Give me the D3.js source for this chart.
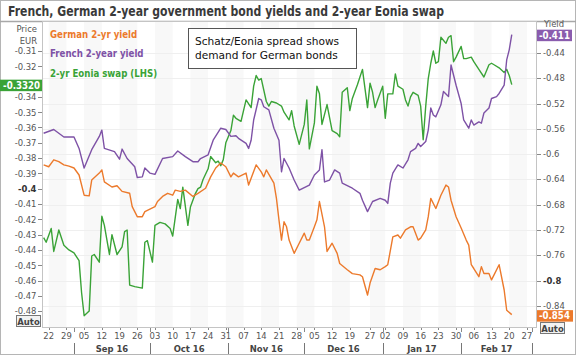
<!DOCTYPE html>
<html><head><meta charset="utf-8">
<script src="https://cdn.jsdelivr.net/npm/d3@7"></script>
<style>body{margin:0;background:#fff}svg{display:block}</style>
</head><body><svg id="c" width="576" height="355"></svg>
<script>
const germanYield = [["2016-08-20",-0.617],["2016-08-22",-0.620],["2016-08-24",-0.609],["2016-08-26",-0.612],["2016-08-28",-0.617],["2016-08-30",-0.619],["2016-09-01",-0.622],["2016-09-03",-0.633],["2016-09-05",-0.665],["2016-09-07",-0.666],["2016-09-08",-0.641],["2016-09-11",-0.630],["2016-09-12",-0.625],["2016-09-13",-0.644],["2016-09-16",-0.652],["2016-09-18",-0.650],["2016-09-20",-0.659],["2016-09-23",-0.662],["2016-09-24",-0.683],["2016-09-26",-0.699],["2016-09-28",-0.699],["2016-09-29",-0.691],["2016-10-03",-0.683],["2016-10-04",-0.675],["2016-10-06",-0.667],["2016-10-08",-0.662],["2016-10-10",-0.665],["2016-10-11",-0.657],["2016-10-13",-0.659],["2016-10-15",-0.657],["2016-10-18",-0.667],["2016-10-20",-0.662],["2016-10-23",-0.654],["2016-10-25",-0.636],["2016-10-27",-0.622],["2016-10-29",-0.614],["2016-10-31",-0.620],["2016-11-02",-0.636],["2016-11-03",-0.630],["2016-11-05",-0.636],["2016-11-08",-0.630],["2016-11-09",-0.649],["2016-11-12",-0.617],["2016-11-14",-0.628],["2016-11-15",-0.636],["2016-11-16",-0.625],["2016-11-19",-0.646],["2016-11-20",-0.670],["2016-11-21",-0.704],["2016-11-22",-0.736],["2016-11-23",-0.707],["2016-11-24",-0.715],["2016-11-25",-0.736],["2016-11-27",-0.757],["2016-11-29",-0.741],["2016-12-01",-0.725],["2016-12-02",-0.736],["2016-12-03",-0.736],["2016-12-05",-0.715],["2016-12-06",-0.704],["2016-12-07",-0.675],["2016-12-09",-0.715],["2016-12-10",-0.754],["2016-12-12",-0.741],["2016-12-14",-0.757],["2016-12-15",-0.773],["2016-12-18",-0.783],["2016-12-20",-0.789],["2016-12-23",-0.791],["2016-12-24",-0.794],["2016-12-26",-0.823],["2016-12-27",-0.804],["2016-12-29",-0.781],["2016-12-31",-0.783],["2017-01-02",-0.778],["2017-01-03",-0.775],["2017-01-05",-0.731],["2017-01-07",-0.728],["2017-01-08",-0.733],["2017-01-10",-0.720],["2017-01-12",-0.715],["2017-01-13",-0.715],["2017-01-15",-0.736],["2017-01-16",-0.733],["2017-01-18",-0.720],["2017-01-19",-0.699],["2017-01-20",-0.670],["2017-01-22",-0.686],["2017-01-24",-0.665],["2017-01-26",-0.649],["2017-01-27",-0.652],["2017-01-28",-0.673],["2017-01-30",-0.699],["2017-02-01",-0.717],["2017-02-03",-0.736],["2017-02-04",-0.744],["2017-02-05",-0.775],["2017-02-06",-0.781],["2017-02-08",-0.794],["2017-02-09",-0.778],["2017-02-10",-0.789],["2017-02-12",-0.789],["2017-02-13",-0.799],["2017-02-14",-0.791],["2017-02-16",-0.775],["2017-02-18",-0.815],["2017-02-19",-0.847],["2017-02-21",-0.854]];

const frenchYield = [["2016-08-20",-0.567],["2016-08-24",-0.561],["2016-08-28",-0.573],["2016-09-01",-0.573],["2016-09-03",-0.591],["2016-09-05",-0.622],["2016-09-08",-0.593],["2016-09-11",-0.572],["2016-09-12",-0.562],["2016-09-13",-0.591],["2016-09-17",-0.596],["2016-09-19",-0.608],["2016-09-20",-0.592],["2016-09-22",-0.607],["2016-09-25",-0.620],["2016-09-26",-0.637],["2016-09-28",-0.636],["2016-09-29",-0.622],["2016-10-01",-0.630],["2016-10-03",-0.632],["2016-10-06",-0.607],["2016-10-10",-0.604],["2016-10-12",-0.595],["2016-10-15",-0.604],["2016-10-18",-0.612],["2016-10-20",-0.612],["2016-10-21",-0.607],["2016-10-24",-0.601],["2016-10-26",-0.578],["2016-10-29",-0.559],["2016-10-31",-0.561],["2016-11-02",-0.572],["2016-11-04",-0.571],["2016-11-05",-0.575],["2016-11-08",-0.583],["2016-11-09",-0.591],["2016-11-10",-0.578],["2016-11-11",-0.546],["2016-11-13",-0.512],["2016-11-14",-0.514],["2016-11-15",-0.525],["2016-11-17",-0.530],["2016-11-19",-0.559],["2016-11-21",-0.578],["2016-11-22",-0.628],["2016-11-23",-0.607],["2016-11-25",-0.622],["2016-11-27",-0.641],["2016-11-29",-0.657],["2016-12-03",-0.649],["2016-12-05",-0.633],["2016-12-07",-0.625],["2016-12-08",-0.593],["2016-12-09",-0.644],["2016-12-11",-0.641],["2016-12-13",-0.625],["2016-12-15",-0.630],["2016-12-16",-0.646],["2016-12-20",-0.654],["2016-12-23",-0.662],["2016-12-24",-0.673],["2016-12-26",-0.691],["2016-12-28",-0.675],["2016-12-31",-0.670],["2017-01-02",-0.673],["2017-01-03",-0.678],["2017-01-04",-0.646],["2017-01-05",-0.630],["2017-01-07",-0.617],["2017-01-09",-0.622],["2017-01-11",-0.609],["2017-01-12",-0.596],["2017-01-14",-0.591],["2017-01-15",-0.583],["2017-01-16",-0.588],["2017-01-18",-0.580],["2017-01-19",-0.562],["2017-01-20",-0.527],["2017-01-21",-0.538],["2017-01-22",-0.541],["2017-01-24",-0.522],["2017-01-25",-0.501],["2017-01-27",-0.509],["2017-01-28",-0.459],["2017-01-30",-0.491],["2017-02-01",-0.520],["2017-02-02",-0.546],["2017-02-04",-0.559],["2017-02-05",-0.546],["2017-02-06",-0.554],["2017-02-08",-0.549],["2017-02-09",-0.551],["2017-02-10",-0.535],["2017-02-12",-0.527],["2017-02-13",-0.512],["2017-02-15",-0.509],["2017-02-16",-0.504],["2017-02-18",-0.491],["2017-02-19",-0.451],["2017-02-20",-0.435],["2017-02-21",-0.411]];

const eoniaSwap = [["2016-08-20",-0.432],["2016-08-21",-0.435],["2016-08-23",-0.426],["2016-08-24",-0.441],["2016-08-26",-0.427],["2016-08-28",-0.437],["2016-08-30",-0.440],["2016-09-01",-0.442],["2016-09-03",-0.447],["2016-09-04",-0.468],["2016-09-05",-0.483],["2016-09-07",-0.480],["2016-09-08",-0.444],["2016-09-09",-0.443],["2016-09-11",-0.448],["2016-09-12",-0.418],["2016-09-13",-0.424],["2016-09-15",-0.443],["2016-09-16",-0.430],["2016-09-18",-0.443],["2016-09-20",-0.438],["2016-09-21",-0.428],["2016-09-22",-0.427],["2016-09-23",-0.463],["2016-09-25",-0.464],["2016-09-28",-0.465],["2016-09-29",-0.435],["2016-09-30",-0.434],["2016-10-02",-0.448],["2016-10-03",-0.424],["2016-10-05",-0.422],["2016-10-07",-0.423],["2016-10-09",-0.426],["2016-10-10",-0.431],["2016-10-12",-0.407],["2016-10-13",-0.413],["2016-10-14",-0.399],["2016-10-16",-0.424],["2016-10-17",-0.412],["2016-10-19",-0.403],["2016-10-20",-0.400],["2016-10-21",-0.399],["2016-10-22",-0.394],["2016-10-24",-0.387],["2016-10-25",-0.379],["2016-10-27",-0.383],["2016-10-28",-0.382],["2016-10-29",-0.385],["2016-10-30",-0.381],["2016-10-31",-0.370],["2016-11-02",-0.362],["2016-11-03",-0.352],["2016-11-04",-0.354],["2016-11-06",-0.356],["2016-11-07",-0.349],["2016-11-08",-0.342],["2016-11-10",-0.347],["2016-11-11",-0.333],["2016-11-12",-0.326],["2016-11-13",-0.329],["2016-11-14",-0.328],["2016-11-16",-0.343],["2016-11-17",-0.346],["2016-11-18",-0.343],["2016-11-20",-0.344],["2016-11-22",-0.346],["2016-11-23",-0.350],["2016-11-25",-0.355],["2016-11-26",-0.349],["2016-11-27",-0.359],["2016-11-29",-0.371],["2016-12-01",-0.358],["2016-12-02",-0.342],["2016-12-03",-0.374],["2016-12-05",-0.357],["2016-12-06",-0.333],["2016-12-07",-0.338],["2016-12-08",-0.358],["2016-12-10",-0.345],["2016-12-12",-0.362],["2016-12-14",-0.364],["2016-12-15",-0.366],["2016-12-16",-0.337],["2016-12-18",-0.334],["2016-12-19",-0.349],["2016-12-20",-0.341],["2016-12-22",-0.332],["2016-12-23",-0.327],["2016-12-24",-0.322],["2016-12-26",-0.347],["2016-12-27",-0.331],["2016-12-28",-0.337],["2016-12-29",-0.347],["2016-12-30",-0.342],["2017-01-01",-0.333],["2017-01-02",-0.354],["2017-01-03",-0.338],["2017-01-05",-0.338],["2017-01-06",-0.325],["2017-01-07",-0.333],["2017-01-09",-0.335],["2017-01-10",-0.342],["2017-01-11",-0.346],["2017-01-12",-0.340],["2017-01-13",-0.337],["2017-01-15",-0.339],["2017-01-16",-0.346],["2017-01-17",-0.368],["2017-01-18",-0.346],["2017-01-19",-0.328],["2017-01-20",-0.318],["2017-01-21",-0.310],["2017-01-22",-0.318],["2017-01-23",-0.317],["2017-01-24",-0.301],["2017-01-26",-0.305],["2017-01-27",-0.301],["2017-01-28",-0.300],["2017-01-29",-0.317],["2017-01-30",-0.314],["2017-02-01",-0.307],["2017-02-02",-0.315],["2017-02-03",-0.315],["2017-02-05",-0.314],["2017-02-06",-0.317],["2017-02-08",-0.322],["2017-02-10",-0.327],["2017-02-12",-0.319],["2017-02-13",-0.318],["2017-02-14",-0.319],["2017-02-16",-0.321],["2017-02-18",-0.324],["2017-02-19",-0.322],["2017-02-20",-0.326],["2017-02-21",-0.332]];

const leftTicks = [-0.31,-0.32,-0.33,-0.34,-0.35,-0.36,-0.37,-0.38,-0.39,-0.40,-0.41,-0.42,-0.43,-0.44,-0.45,-0.46,-0.47,-0.48];
const leftHiddenLabels = [-0.33];
const rightTicks = [-0.44,-0.48,-0.52,-0.56,-0.60,-0.64,-0.68,-0.72,-0.76,-0.80,-0.84];
const weekTicks = ["2016-08-22","2016-08-29","2016-09-05","2016-09-12","2016-09-19","2016-09-26","2016-10-03","2016-10-10","2016-10-17","2016-10-24","2016-10-31","2016-11-07","2016-11-14","2016-11-21","2016-11-28","2016-12-05","2016-12-12","2016-12-19","2016-12-27","2017-01-02","2017-01-09","2017-01-16","2017-01-23","2017-01-30","2017-02-06","2017-02-13","2017-02-20","2017-02-27"];
const monthStarts = ["2016-09-01","2016-10-01","2016-11-01","2016-12-01","2017-01-01","2017-02-01","2017-03-01"];
const seriesNames = ["German 2-yr yield","French 2-year yield","2-yr Eonia swap (LHS)"];
const seriesColors = ["#ec7a2c","#7e52a6","#3aa337"];
const titleText = "French, German 2-year government bond yields and 2-year Eonia swap";
const noteLines = ["Schatz/Eonia spread shows","demand for German bonds"];

const parse = d3.timeParse("%Y-%m-%d");
const svg = d3.select("#c");
const FONT = "'DejaVu Sans Condensed','DejaVu Sans',sans-serif";
const P = {l:43, r:536, t:22, b:327};

const x = d3.scaleTime().domain([parse("2016-09-01"), parse("2017-03-01")]).range([74, 532]);
const yL = d3.scaleLinear().domain([-0.48, -0.31]).range([311.1, 51.0]);
const yR = d3.scaleLinear().domain([-0.84, -0.44]).range([305.8, 53]);

// outer frame
svg.append("rect").attr("x",0.5).attr("y",0.5).attr("width",575).attr("height",354)
  .attr("fill","#fff").attr("stroke","#b5b5b5");
// title
svg.append("text").attr("x",8).attr("y",16).attr("font-family",FONT).attr("font-size",14.5)
  .attr("font-weight","bold").attr("fill","#3a3a3a").attr("textLength",436).attr("lengthAdjust","spacingAndGlyphs")
  .text(titleText);
svg.append("line").attr("x1",0).attr("x2",576).attr("y1",21.5).attr("y2",21.5).attr("stroke","#a8a8a8").attr("stroke-width",1.5);

// plot background bands
const wk = weekTicks.map(parse);
const g = svg.append("g");
g.append("rect").attr("x",P.l).attr("y",P.t).attr("width",P.r-P.l).attr("height",P.b-P.t).attr("fill","#fff");
const bandEdges = wk.concat([d3.timeWeek.offset(wk[wk.length-1],1)]);
for (let i=0;i<bandEdges.length-1;i+=2){
  const x0 = Math.max(P.l, x(bandEdges[i])), x1 = Math.min(P.r, x(bandEdges[i+1]));
  if (x1 > x0) g.append("rect").attr("x",x0).attr("y",P.t).attr("width",x1-x0).attr("height",P.b-P.t).attr("fill","#f8f8f8");
}
// horizontal grid (right axis)
g.selectAll("line.grid").data(rightTicks).join("line").attr("class","grid")
  .attr("x1",P.l).attr("x2",P.r).attr("y1",d=>Math.round(yR(d))+0.5).attr("y2",d=>Math.round(yR(d))+0.5)
  .attr("stroke","#efefef");

// clip
svg.append("clipPath").attr("id","clip").append("rect").attr("x",P.l).attr("y",P.t).attr("width",P.r-P.l).attr("height",P.b-P.t);

// annotation box
svg.append("rect").attr("x",188.5).attr("y",28.5).attr("width",168).attr("height",40)
  .attr("fill","#fff").attr("stroke","#555").attr("stroke-width",1);
noteLines.forEach((t,i)=>svg.append("text").attr("x",195).attr("y",45+i*14).attr("font-family","'DejaVu Sans',sans-serif")
  .attr("font-size",10.6).attr("fill","#111").text(t));

// lines
const lineR = d3.line().x(d=>x(parse(d[0]))).y(d=>yR(d[1]));
const lineL = d3.line().x(d=>x(parse(d[0]))).y(d=>yL(d[1]));
const lines = svg.append("g").attr("clip-path","url(#clip)").attr("fill","none").attr("stroke-width",1.4).attr("stroke-linejoin","round");
lines.append("path").datum(eoniaSwap).attr("d",lineL).attr("stroke",seriesColors[2]);
lines.append("path").datum(germanYield).attr("d",lineR).attr("stroke",seriesColors[0]);
lines.append("path").datum(frenchYield).attr("d",lineR).attr("stroke",seriesColors[1]);

// plot border
svg.append("rect").attr("x",P.l-0.5).attr("y",P.t-0.5).attr("width",P.r-P.l+1).attr("height",P.b-P.t+1)
  .attr("fill","none").attr("stroke","#c4c4c4");

// legend
seriesNames.forEach((n,i)=>svg.append("text").attr("x",50).attr("y",38+i*19.3).attr("font-family",FONT)
  .attr("font-size",9.6).attr("font-weight","bold").attr("fill",seriesColors[i]).text(n));

// left axis
const fmt = v => String(+v.toFixed(2));
const la = svg.append("g").attr("font-family",FONT).attr("font-size",9.4).attr("fill","#555");
leftTicks.forEach(v=>{
  const yy = yL(v);
  la.append("line").attr("x1",38).attr("x2",42).attr("y1",Math.round(yy)+0.5).attr("y2",Math.round(yy)+0.5).attr("stroke","#888");
  if (leftHiddenLabels.includes(v)) return;
  la.append("text").attr("x",36.5).attr("y",yy+3.3).attr("text-anchor","end")
    .attr("font-weight", v===-0.40?"bold":"normal").attr("fill", v===-0.40?"#333":"#555").text(fmt(v));
});
la.append("text").attr("x",37).attr("y",32).attr("text-anchor","end").text("Price");
la.append("text").attr("x",37).attr("y",44).attr("text-anchor","end").text("EUR");

// right axis
const ra = svg.append("g").attr("font-family",FONT).attr("font-size",9.4).attr("fill","#555");
ra.append("text").attr("x",544).attr("y",26.5).text("Yield");
rightTicks.forEach(v=>{
  const yy = yR(v);
  ra.append("line").attr("x1",537).attr("x2",541).attr("y1",Math.round(yy)+0.5).attr("y2",Math.round(yy)+0.5).attr("stroke","#888");
  ra.append("text").attr("x",543).attr("y",yy+3)
    .attr("font-weight", v===-0.80?"bold":"normal").attr("fill", v===-0.80?"#333":"#555").text(fmt(v));
});

// Auto boxes
function autoBox(x0,y0){
  svg.append("rect").attr("x",x0+0.5).attr("y",y0+0.5).attr("width",24).attr("height",11).attr("fill","#f2f2f2").attr("stroke","#777");
  svg.append("text").attr("x",x0+12.5).attr("y",y0+9.5).attr("text-anchor","middle").attr("font-family",FONT)
    .attr("font-size",9.4).attr("font-weight","bold").attr("fill","#444").text("Auto");
}
autoBox(16,315);
autoBox(540,322);

// last-value labels
function valLabel(xx, yy, w, txt, fill, anchor){
  svg.append("rect").attr("x",xx).attr("y",yy-5).attr("width",w).attr("height",11.5).attr("fill",fill);
  svg.append("text").attr("x",anchor==="end"?xx+w-2:xx+2).attr("y",yy+4).attr("text-anchor",anchor)
    .attr("font-family",FONT).attr("font-size",9.6).attr("font-weight","bold").attr("fill","#fff").text(txt);
}
const lastG = eoniaSwap[eoniaSwap.length-1][1];
const lastF = frenchYield[frenchYield.length-1][1];
const lastD = germanYield[germanYield.length-1][1];
valLabel(0, yL(lastG), 42, lastG.toFixed(4), seriesColors[2], "end");
valLabel(537, yR(lastF), 35, lastF.toFixed(3), "#8a5cae", "start");
valLabel(537, yR(lastD)+0.5, 36, lastD.toFixed(3), seriesColors[0], "start");

// x axis
const xa = svg.append("g").attr("font-family",FONT).attr("font-size",9.4).attr("fill","#555");
wk.forEach(d=>{
  const xx = x(d);
  xa.append("line").attr("x1",Math.round(xx)+0.5).attr("x2",Math.round(xx)+0.5).attr("y1",328).attr("y2",330).attr("stroke","#888");
  xa.append("text").attr("x",xx).attr("y",339).attr("text-anchor","middle").text(d3.timeFormat("%d")(d));
});
const ms = monthStarts.map(parse);
ms.forEach(d=>{
  const xx = Math.round(x(d))+0.5;
  xa.append("line").attr("x1",xx).attr("x2",xx).attr("y1",328).attr("y2",332).attr("stroke","#888");
  xa.append("line").attr("x1",xx).attr("x2",xx).attr("y1",343).attr("y2",354).attr("stroke","#777");
});
for (let i=0;i<ms.length-1;i++){
  xa.append("text").attr("x",(x(ms[i])+x(ms[i+1]))/2).attr("y",352).attr("text-anchor","middle")
    .attr("font-weight","bold").attr("fill","#444").text(d3.timeFormat("%b %y")(ms[i]));
}
</script></body></html>
